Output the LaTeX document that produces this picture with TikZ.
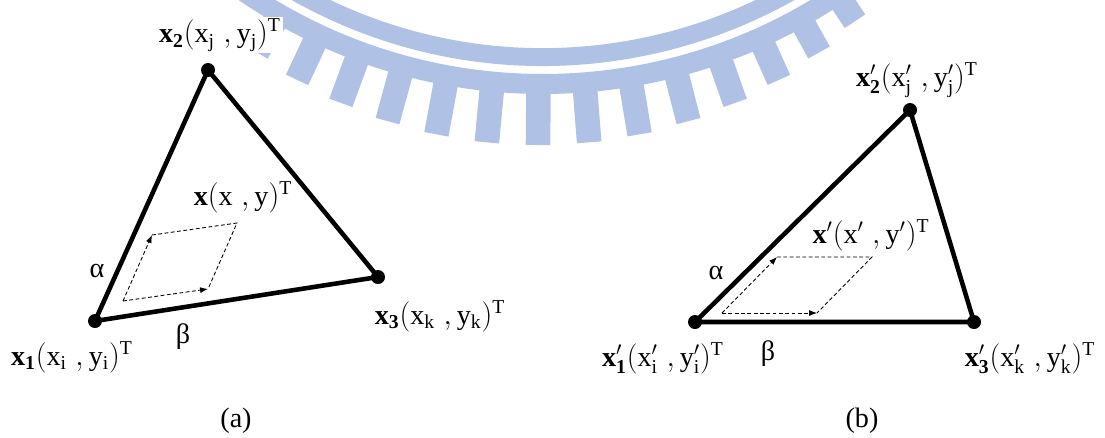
\documentclass[tikz,border=0pt]{standalone}
\usepackage{fontspec}
\setmainfont{Liberation Serif}
\usetikzlibrary{arrows.meta, calc}
\definecolor{wmBlue}{HTML}{AFC1E5}
\tikzset{
  edge/.style    = {line width=2.6pt, black, line join=round},
  vdot/.style    = {circle, fill=black, inner sep=0pt, minimum size=0.28cm},
  dside/.style   = {black, line width=0.5pt, dash pattern=on 2.2pt off 1.4pt},
  darrow/.style  = {dside, -{Latex[length=4.5pt, width=3.4pt]}},
  lbl/.style     = {font=\fontsize{16}{18}\selectfont, inner sep=1pt, fill=white},
  caplbl/.style  = {font=\fontsize{16}{18}\selectfont},
  wmband/.style  = {wmBlue, line width=10.2pt},
  wmring/.style  = {wmBlue, line width=11.4pt},
  wmtick/.style  = {wmBlue, line width=14pt},
}

\begin{document}
\begin{tikzpicture}[x=0.02cm, y=-0.02cm]
  \useasboundingbox (0,0) rectangle (1105,437);

  % faint logo in the background
  \begin{scope}
    \clip (0,0) rectangle (1105,437);
    \coordinate (wb) at (543,-446);
    \draw[wmband] ([shift={(30:503)}]wb) arc[start angle=30, end angle=150, radius=503];
    \draw[wmring] ([shift={(48:530)}]wb) arc[start angle=48, end angle=128, radius=530];
    \foreach \t in {41,48,...,132} {
      \coordinate (tb) at ({538+420*cos(\t)},{-215+360*sin(\t)});
      \draw[wmtick] ($(wb)!10.5cm!(tb)$) -- (tb);
    }
  \end{scope}

  % (a)
  \coordinate (p1) at (95,321);
  \coordinate (p2) at (208,70);
  \coordinate (p3) at (378,277);
  \draw[edge] (p1) -- (p2) -- (p3) -- cycle;
  \foreach \p in {p1,p2,p3}
    \node[vdot] (d\p) at (\p) {};

  \coordinate (a0) at (123,301);
  \coordinate (a1) at (152,235);
  \coordinate (a2) at (237,223);
  \coordinate (a3) at (208,289);
  \draw[darrow] (a0) -- (a1);
  \draw[darrow] (a0) -- (a3);
  \draw[dside] (a1) -- (a2) -- (a3);

  \node[lbl] (l2) at (220,35)  {$\mathbf{x}_{\mathbf{2}}(\mathrm{x_j}\;{,}\,\mathrm{y_j})^{\mathrm{T}}$};
  \node[lbl] (lx) at (243,197) {$\mathbf{x}(\mathrm{x}\;{,}\,\mathrm{y})^{\mathrm{T}}$};
  \node[lbl] (l1) at (72,357)  {$\mathbf{x}_{\mathbf{1}}(\mathrm{x_i}\;{,}\,\mathrm{y_i})^{\mathrm{T}}$};
  \node[lbl] (l3) at (440,316) {$\mathbf{x}_{\mathbf{3}}(\mathrm{x_k}\;{,}\,\mathrm{y_k})^{\mathrm{T}}$};
  \node[lbl] (al) at (97,271)  {α};
  \node[lbl] (be) at (183,337) {β};
  \node[caplbl] (ca) at (236,421) {(a)};

  % (b)
  \coordinate (q1) at (695,322);
  \coordinate (q2) at (910,110);
  \coordinate (q3) at (974,322);
  \draw[edge] (q1) -- (q2) -- (q3) -- cycle;
  \foreach \q in {q1,q2,q3}
    \node[vdot] (d\q) at (\q) {};

  \coordinate (b0) at (722,313);
  \coordinate (b1) at (777,257);
  \coordinate (b2) at (872,257);
  \coordinate (b3) at (817,313);
  \draw[darrow] (b0) -- (b1);
  \draw[darrow] (b0) -- (b3);
  \draw[dside] (b1) -- (b2) -- (b3);

  \node[lbl] (m2) at (917,80)  {$\mathbf{x}'_{\mathbf{2}}(\mathrm{x}'_{\mathrm{j}}\;{,}\,\mathrm{y}'_{\mathrm{j}})^{\mathrm{T}}$};
  \node[lbl] (mx) at (871,235) {$\mathbf{x}'(\mathrm{x}'\;{,}\,\mathrm{y}')^{\mathrm{T}}$};
  \node[lbl] (m1) at (663,358) {$\mathbf{x}'_{\mathbf{1}}(\mathrm{x}'_{\mathrm{i}}\;{,}\,\mathrm{y}'_{\mathrm{i}})^{\mathrm{T}}$};
  \node[lbl] (m3) at (1030,358) {$\mathbf{x}'_{\mathbf{3}}(\mathrm{x}'_{\mathrm{k}}\;{,}\,\mathrm{y}'_{\mathrm{k}})^{\mathrm{T}}$};
  \node[lbl] (al2) at (716,273) {α};
  \node[lbl] (be2) at (768,354) {β};
  \node[caplbl] (cb) at (862,421) {(b)};
\end{tikzpicture}
\end{document}
